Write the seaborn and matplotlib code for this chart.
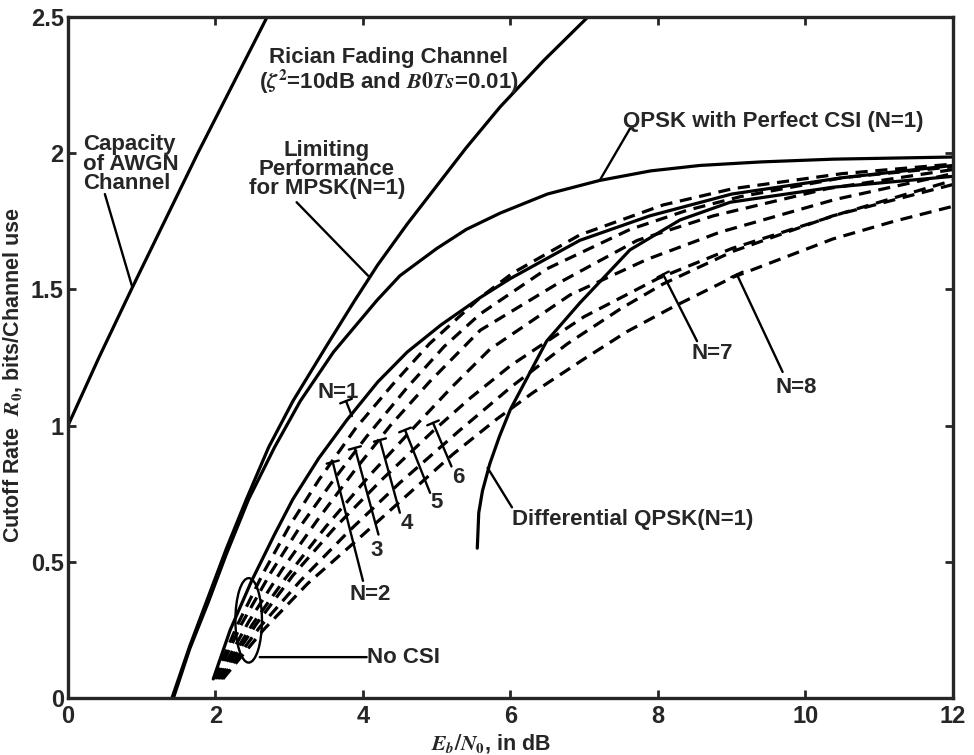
import pandas as pd
import seaborn as sns
import matplotlib.pyplot as plt
from matplotlib.patches import Ellipse

# --- curves (Eb/N0 in dB, R0 in bits/channel use) ---
awgn_x = [0.0, 0.42, 0.86, 1.31, 1.76, 2.23, 2.70]
awgn_y = [1.0, 1.25, 1.5, 1.75, 2.0, 2.25, 2.5]

mpsk_x = [1.41, 1.65, 1.9, 2.15, 2.42, 2.72, 3.05, 3.5, 3.89, 4.2, 4.6, 5.0, 5.4, 5.86, 6.45, 7.05]
mpsk_y = [0.0, 0.19, 0.37, 0.55, 0.73, 0.92, 1.09, 1.29, 1.46, 1.59, 1.74, 1.88, 2.02, 2.17, 2.34, 2.5]

qpsk_x = [1.43, 1.65, 1.9, 2.15, 2.45, 2.8, 3.15, 3.6, 4.19, 4.5, 5.0, 5.4, 5.86, 6.5, 7.21, 7.9, 8.57, 9.4, 10.37, 12.0]
qpsk_y = [0.0, 0.18, 0.35, 0.53, 0.73, 0.92, 1.09, 1.27, 1.46, 1.55, 1.65, 1.72, 1.78, 1.85, 1.90, 1.935, 1.955, 1.968, 1.978, 1.986]

n1_x = [1.97, 2.2, 2.49, 2.8, 3.05, 3.4, 3.78, 4.2, 4.6, 5.06, 5.59, 6.0, 6.94, 7.89, 9.0, 10.5, 12.0]
n1_y = [0.07, 0.25, 0.43, 0.60, 0.73, 0.88, 1.02, 1.16, 1.27, 1.37, 1.47, 1.54, 1.68, 1.77, 1.85, 1.91, 1.955]

dqpsk_x = [5.55, 5.57, 5.62, 5.72, 5.85, 6.0, 6.49, 6.94, 7.62, 8.3, 8.98, 10.37, 12.0]
dqpsk_y = [0.55, 0.68, 0.76, 0.86, 0.96, 1.06, 1.31, 1.45, 1.645, 1.755, 1.82, 1.875, 1.915]

n2_x = [1.98, 2.3, 2.65, 3.0, 3.4, 3.9, 4.4, 4.9, 5.59, 6.03, 6.94, 8.07, 9.02, 10.5, 12.0]
n2_y = [0.07, 0.27, 0.46, 0.63, 0.80, 0.99, 1.15, 1.30, 1.47, 1.56, 1.70, 1.81, 1.87, 1.925, 1.96]

n3_x = [2.0, 2.35, 2.75, 3.15, 3.6, 4.05, 4.6, 5.1, 5.59, 6.49, 7.62, 8.39, 9.11, 10.5, 12.0]
n3_y = [0.07, 0.27, 0.46, 0.63, 0.80, 0.96, 1.14, 1.29, 1.41, 1.575, 1.72, 1.79, 1.84, 1.91, 1.95]

n4_x = [2.02, 2.45, 2.9, 3.4, 3.9, 4.37, 4.9, 5.59, 6.63, 7.72, 8.75, 10.3, 12.0]
n4_y = [0.07, 0.28, 0.47, 0.66, 0.84, 1.0, 1.16, 1.35, 1.52, 1.68, 1.77, 1.87, 1.94]

n5_x = [2.04, 2.5, 2.95, 3.5, 4.1, 4.68, 5.2, 5.72, 6.81, 7.85, 8.84, 10.4, 12.0]
n5_y = [0.07, 0.27, 0.44, 0.63, 0.82, 0.99, 1.14, 1.28, 1.48, 1.61, 1.71, 1.83, 1.925]

n6_x = [2.06, 2.55, 3.05, 3.6, 4.25, 4.95, 5.45, 6.0, 7.0, 8.0, 9.0, 10.5, 12.0]
n6_y = [0.07, 0.27, 0.45, 0.62, 0.80, 0.98, 1.10, 1.22, 1.40, 1.54, 1.65, 1.78, 1.90]

n7_x = [2.08, 2.6, 3.15, 3.8, 4.5, 5.3, 6.0, 6.77, 7.5, 8.07, 9.02, 10.37, 12.0]
n7_y = [0.07, 0.26, 0.43, 0.61, 0.79, 0.98, 1.14, 1.30, 1.43, 1.52, 1.64, 1.77, 1.885]

n8_x = [2.1, 2.65, 3.25, 3.9, 4.6, 5.22, 5.82, 6.3, 7.0, 7.58, 8.2, 9.02, 10.37, 11.2, 12.0]
n8_y = [0.07, 0.25, 0.42, 0.575, 0.745, 0.895, 1.025, 1.12, 1.245, 1.345, 1.435, 1.545, 1.685, 1.75, 1.805]

curves = {
    'awgn': (awgn_x, awgn_y, 'solid'),
    'mpsk': (mpsk_x, mpsk_y, 'solid'),
    'qpsk': (qpsk_x, qpsk_y, 'solid'),
    'n1': (n1_x, n1_y, 'solid'),
    'dqpsk': (dqpsk_x, dqpsk_y, 'solid'),
    'n2': (n2_x, n2_y, 'dash'),
    'n3': (n3_x, n3_y, 'dash'),
    'n4': (n4_x, n4_y, 'dash'),
    'n5': (n5_x, n5_y, 'dash'),
    'n6': (n6_x, n6_y, 'dash'),
    'n7': (n7_x, n7_y, 'dash'),
    'n8': (n8_x, n8_y, 'dash'),
}

rows = []
for name, (xs, ys, st) in curves.items():
    for a, b in zip(xs, ys):
        rows.append({'curve': name, 'x': a, 'y': b})
df = pd.DataFrame(rows)

sns.set_style('ticks')
plt.rcParams['font.family'] = ['Liberation Sans', 'DejaVu Sans']
plt.rcParams['font.weight'] = 'bold'
plt.rcParams['mathtext.fontset'] = 'stix'

fig = plt.figure(figsize=(9.74, 7.55), dpi=100)
ax = fig.add_axes([0.0698, 0.0755, 0.9086, 0.902])

palette = {k: 'black' for k in curves}
dashes = {k: ('' if v[2] == 'solid' else (3.8, 2.4)) for k, v in curves.items()}
sns.lineplot(data=df, x='x', y='y', hue='curve', style='curve', palette=palette,
             dashes=dashes, sort=False, estimator=None, legend=False,
             linewidth=2.3, ax=ax)

ax.set_xlim(0, 12)
ax.set_ylim(0, 2.5)
ax.set_xticks([0, 2, 4, 6, 8, 10, 12])
ax.set_yticks([0, 0.5, 1, 1.5, 2, 2.5])
ax.set_yticklabels(['0', '0.5', '1', '1.5', '2', '2.5'])
ax.tick_params(direction='in', length=6, width=2, labelsize=17, top=True, right=True,
               labeltop=False, labelright=False)
ax.tick_params(axis='x', pad=5)
ax.tick_params(axis='y', pad=3)
for sp in ax.spines.values():
    sp.set_linewidth(2.4)
    sp.set_visible(True)

ax.set_xlabel(r'$E_b/N_0$, in dB', fontsize=15.5, fontweight='bold')
ax.set_ylabel(r'Cutoff Rate  $R_0$, bits/Channel use', fontsize=15.5, fontweight='bold')
ax.xaxis.set_label_coords(0.478, -0.05)
ax.yaxis.set_label_coords(-0.05, 0.474)

fs = 16
plain = dict(arrowstyle='-', lw=1.7, color='black', shrinkA=0, shrinkB=0)
tbar = dict(arrowstyle='-[, widthB=0.45, lengthB=0', lw=1.7, color='black', shrinkA=0, shrinkB=0)

ax.text(0.21, 1.96, 'Capacity\nof AWGN\nChannel', fontsize=fs, ha='left', va='center', linespacing=0.9)
ax.annotate('', xy=(0.87, 1.51), xytext=(0.50, 1.85), arrowprops=plain)

ax.text(3.51, 1.94, 'Limiting\nPerformance\nfor MPSK(N=1)', fontsize=fs, ha='center', va='center', linespacing=0.9)
ax.annotate('', xy=(4.07, 1.55), xytext=(3.1, 1.82), arrowprops=plain)

ax.text(4.35, 2.30, 'Rician Fading Channel\n' + r'($\zeta^2$=10dB and $\mathit{B0Ts}$=0.01)',
        fontsize=fs, ha='center', va='center', linespacing=1.0)

ax.text(7.53, 2.115, 'QPSK with Perfect CSI (N=1)', fontsize=fs, ha='left', va='center')
ax.annotate('', xy=(7.21, 1.90), xytext=(7.62, 2.09), arrowprops=plain)

ax.text(3.66, 1.12, 'N=1', fontsize=fs, ha='center', va='center')
ax.annotate('', xy=(3.77, 1.09), xytext=(3.85, 1.035), arrowprops=tbar)

ax.text(3.82, 0.38, 'N=2', fontsize=fs, ha='left', va='center')
ax.annotate('', xy=(3.59, 0.866), xytext=(4.0, 0.43), arrowprops=tbar)
ax.text(4.19, 0.54, '3', fontsize=fs, ha='center', va='center')
ax.annotate('', xy=(3.89, 0.918), xytext=(4.21, 0.60), arrowprops=tbar)
ax.text(4.6, 0.64, '4', fontsize=fs, ha='center', va='center')
ax.annotate('', xy=(4.23, 0.947), xytext=(4.5, 0.68), arrowprops=tbar)
ax.text(5.0, 0.716, '5', fontsize=fs, ha='center', va='center')
ax.annotate('', xy=(4.57, 0.984), xytext=(4.91, 0.753), arrowprops=tbar)
ax.text(5.29, 0.81, '6', fontsize=fs, ha='center', va='center')
ax.annotate('', xy=(4.95, 1.01), xytext=(5.2, 0.85), arrowprops=tbar)

ax.text(8.46, 1.263, 'N=7', fontsize=fs, ha='left', va='center')
ax.annotate('', xy=(8.07, 1.555), xytext=(8.53, 1.31), arrowprops=tbar)
ax.text(9.59, 1.14, 'N=8', fontsize=fs, ha='left', va='center')
ax.annotate('', xy=(9.07, 1.555), xytext=(9.69, 1.197), arrowprops=tbar)

ax.text(6.02, 0.657, 'Differential QPSK(N=1)', fontsize=fs, ha='left', va='center')
ax.annotate('', xy=(5.69, 0.845), xytext=(6.02, 0.70), arrowprops=plain)

ax.add_patch(Ellipse((2.45, 0.285), width=0.36, height=0.31, fill=False, lw=1.7, color='black'))
ax.annotate('', xy=(2.6, 0.15), xytext=(4.05, 0.15), arrowprops=plain)
ax.text(4.05, 0.147, 'No CSI', fontsize=fs, ha='left', va='center')

fig.savefig('out.png', dpi=100)
